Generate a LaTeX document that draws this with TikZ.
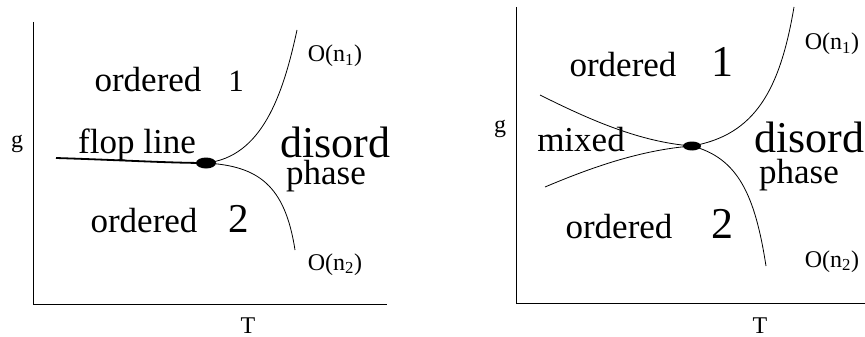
\documentclass[tikz,border=0pt]{standalone}
\usepackage{fontspec}
\setmainfont{Liberation Serif}
\newcommand{\regionfont}{\fontsize{35}{40}\selectfont}
\newcommand{\disordfont}{\fontsize{44}{48}\selectfont}
\newcommand{\labelfont}{\fontsize{24}{28}\selectfont}
\newcommand{\axisfont}{\fontsize{24}{28}\selectfont}
\tikzset{
  txt/.style={inner sep=0pt, anchor=base},
  axis/.style={line width=0.9pt},
  border/.style={line width=0.8pt},
  flop/.style={line width=1.8pt},
  crit/.style={ellipse, fill=black, inner sep=0pt}
}
\usetikzlibrary{shapes.geometric}
\begin{document}
\begin{tikzpicture}[x=1pt, y=-1pt]
    \useasboundingbox (0,0) rectangle (865,337);

    % Left diagram - axes
    \coordinate (ltop) at (33,22);
    \coordinate (lorig) at (33,304);
    \coordinate (lright) at (387,304);
    \draw[axis] (ltop) -- (lorig) -- (lright);
    \node[txt, font=\axisfont] (lg) at (17,147) {g};
    \node[txt, font=\axisfont] (lT) at (248,333) {T};

    % Left diagram - boundaries
    \node[crit, minimum width=20pt, minimum height=11pt] (ldot) at (206,163) {};
    \coordinate (lflop) at (56,158);
    \coordinate (lup) at (297,30);
    \coordinate (ldown) at (295,250);
    \draw[flop] (lflop) .. controls (120,160) and (170,163) .. (ldot.center);
    \draw[border] (ldot.center) .. controls (262,157) and (283,95) .. (lup);
    \draw[border] (ldot.center) .. controls (258,166) and (285,185) .. (ldown);

    % Left diagram - labels
    \node[txt, font=\regionfont] (lord1) at (148,92) {ordered};
    \node[txt, font=\fontsize{31}{36}\selectfont] (lone) at (236,92) {1};
    \node[txt, font=\regionfont] (lord2) at (144,232) {ordered};
    \node[txt, font=\fontsize{41}{46}\selectfont] (ltwo) at (239,232) {2};
    \node[txt, font=\regionfont] (lflopl) at (137,153) {flop line};
    \node[txt, font=\disordfont] (ldis) at (335,157) {disord};
    \node[txt, font=\regionfont] (lphase) at (326,184) {phase};
    \node[txt, font=\labelfont] (lon1) at (335,62) {O(n\textsubscript{1})};
    \node[txt, font=\labelfont] (lon2) at (335,270) {O(n\textsubscript{2})};

    % Right diagram - axes
    \coordinate (rtop) at (516,7);
    \coordinate (rorig) at (516,303);
    \coordinate (rright) at (865,303);
    \draw[axis] (rtop) -- (rorig) -- (rright);
    \node[txt, font=\axisfont] (rg) at (500,132) {g};
    \node[txt, font=\axisfont] (rT) at (760,333) {T};

    % Right diagram - boundaries
    \node[crit, minimum width=18pt, minimum height=9pt] (rdot) at (692,146) {};
    \coordinate (rmixup) at (540,95);
    \coordinate (rmixdown) at (545,187);
    \coordinate (rup) at (794,7);
    \coordinate (rdown) at (766,266);
    \draw[border] (rmixup) .. controls (590,120) and (640,142) .. (rdot.center);
    \draw[border] (rmixdown) .. controls (590,168) and (640,150) .. (rdot.center);
    \draw[border] (rdot.center) .. controls (755,135) and (780,90) .. (rup);
    \draw[border] (rdot.center) .. controls (738,158) and (755,195) .. (rdown);

    % Right diagram - labels
    \node[txt, font=\regionfont] (rord1) at (623,77) {ordered};
    \node[txt, font=\fontsize{44}{48}\selectfont] (rone) at (722,77) {1};
    \node[txt, font=\regionfont] (rmixed) at (581,151) {mixed};
    \node[txt, font=\regionfont] (rord2) at (619,238) {ordered};
    \node[txt, font=\fontsize{44}{48}\selectfont] (rtwo) at (722,238) {2};
    \node[txt, font=\disordfont] (rdis) at (809,152) {disord};
    \node[txt, font=\regionfont] (rphase) at (799,183) {phase};
    \node[txt, font=\labelfont] (ron1) at (832,50) {O(n\textsubscript{1})};
    \node[txt, font=\labelfont] (ron2) at (832,267) {O(n\textsubscript{2})};
\end{tikzpicture}
\end{document}
